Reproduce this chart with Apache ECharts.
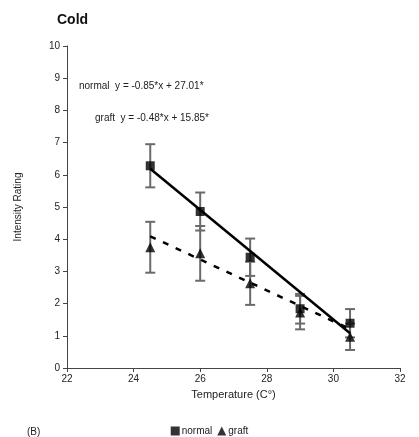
<!DOCTYPE html>
<html>
<head>
<meta charset="utf-8">
<script src="https://cdn.jsdelivr.net/npm/echarts@6/dist/echarts.min.js"></script>
<style>html,body{margin:0;padding:0;background:#fff;}#c{width:419px;height:437px;}</style>
</head>
<body>
<div id="c"></div>
<script>
const temps = [24.5, 26, 27.5, 29, 30.5];
const normalMean = [6.28, 4.86, 3.44, 1.84, 1.39];
const normalErr = [0.67, 0.59, 0.58, 0.46, 0.44];
const graftMean = [3.75, 3.56, 2.63, 1.72, 0.97];
const graftErr = [0.79, 0.85, 0.67, 0.52, 0.41];
const trendX = [24.5, 30.5];
const normalTrend = [6.19, 1.08];
const graftTrend = [4.09, 1.21];
const xTicks = [22, 24, 26, 28, 30, 32];
const yTicks = [0, 1, 2, 3, 4, 5, 6, 7, 8, 9, 10];
const normalEq = 'normal  y = -0.85*x + 27.01*';
const graftEq = 'graft  y = -0.48*x + 15.85*';

const font = 'Liberation Sans, Arial, sans-serif';
const chart = echarts.init(document.getElementById('c'));

function errData(means, errs) {
  return temps.map((t, i) => [t, means[i] - errs[i], means[i] + errs[i]]);
}
function errRender(params, api) {
  const x = api.value(0);
  const lo = api.coord([x, api.value(1)]);
  const hi = api.coord([x, api.value(2)]);
  const hw = 5;
  const style = { stroke: '#6a6a6a', lineWidth: 2 };
  return {
    type: 'group',
    children: [
      { type: 'line', shape: { x1: lo[0], y1: lo[1], x2: hi[0], y2: hi[1] }, style: style },
      { type: 'line', shape: { x1: lo[0] - hw, y1: lo[1], x2: lo[0] + hw, y2: lo[1] }, style: style },
      { type: 'line', shape: { x1: hi[0] - hw, y1: hi[1], x2: hi[0] + hw, y2: hi[1] }, style: style }
    ]
  };
}

chart.setOption({
  animation: false,
  backgroundColor: '#fff',
  textStyle: { fontFamily: font },
  grid: { left: 67, right: 19, top: 46, bottom: 69 },
  title: {
    text: 'Cold', left: 52, top: 8,
    textStyle: { fontFamily: font, fontSize: 14, fontWeight: 'bold', color: '#111' }
  },
  legend: {
    top: 426, left: 'center', padding: 0,
    itemWidth: 9, itemHeight: 9, itemGap: 5,
    textStyle: { fontFamily: font, fontSize: 10, color: '#222', padding: [0, 0, 0, -3] },
    data: [
      { name: 'normal', icon: 'rect' },
      { name: 'graft', icon: 'triangle' }
    ]
  },
  graphic: [
    { type: 'text', left: 27, top: 427, style: { text: '(B)', font: '10px ' + font, fill: '#222' } },
    { type: 'text', left: 79, top: 81, style: { text: normalEq, font: '10px ' + font, fill: '#222' } },
    { type: 'text', left: 95, top: 113, style: { text: graftEq, font: '10px ' + font, fill: '#222' } }
  ],
  xAxis: {
    type: 'value', min: xTicks[0], max: xTicks[xTicks.length - 1], interval: 2,
    name: 'Temperature (C°)', nameLocation: 'middle', nameGap: 21,
    nameTextStyle: { fontFamily: font, fontSize: 11, color: '#222' },
    axisLine: { lineStyle: { color: '#444', width: 1 } },
    axisTick: { show: true, length: 4, lineStyle: { color: '#444' } },
    axisLabel: { fontFamily: font, fontSize: 10, color: '#222', margin: 6 },
    splitLine: { show: false }
  },
  yAxis: {
    type: 'value', min: yTicks[0], max: yTicks[yTicks.length - 1], interval: 1,
    name: 'Intensity Rating', nameLocation: 'middle', nameGap: 44,
    nameTextStyle: { fontFamily: font, fontSize: 10, color: '#222' },
    axisLine: { show: true, lineStyle: { color: '#444', width: 1 } },
    axisTick: { show: true, length: 4, lineStyle: { color: '#444' } },
    axisLabel: { fontFamily: font, fontSize: 10, color: '#222', margin: 7 },
    splitLine: { show: false }
  },
  series: [
    { type: 'custom', name: 'normalErr', renderItem: errRender, data: errData(normalMean, normalErr), z: 1, silent: true },
    { type: 'custom', name: 'graftErr', renderItem: errRender, data: errData(graftMean, graftErr), z: 1, silent: true },
    {
      type: 'line', name: 'normalTrend', data: trendX.map((x, i) => [x, normalTrend[i]]),
      showSymbol: false, lineStyle: { color: '#000', width: 2.5 }, z: 2, silent: true
    },
    {
      type: 'line', name: 'graftTrend', data: trendX.map((x, i) => [x, graftTrend[i]]),
      showSymbol: false, lineStyle: { color: '#000', width: 2.5, type: [6, 8] }, z: 2, silent: true
    },
    {
      type: 'scatter', name: 'normal', symbol: 'rect', symbolSize: 9,
      itemStyle: { color: '#000' }, data: temps.map((t, i) => [t, normalMean[i]]), z: 3
    },
    {
      type: 'scatter', name: 'graft', symbol: 'triangle', symbolSize: 10,
      itemStyle: { color: '#000' }, data: temps.map((t, i) => [t, graftMean[i]]), z: 3
    }
  ]
});
</script>
</body>
</html>
